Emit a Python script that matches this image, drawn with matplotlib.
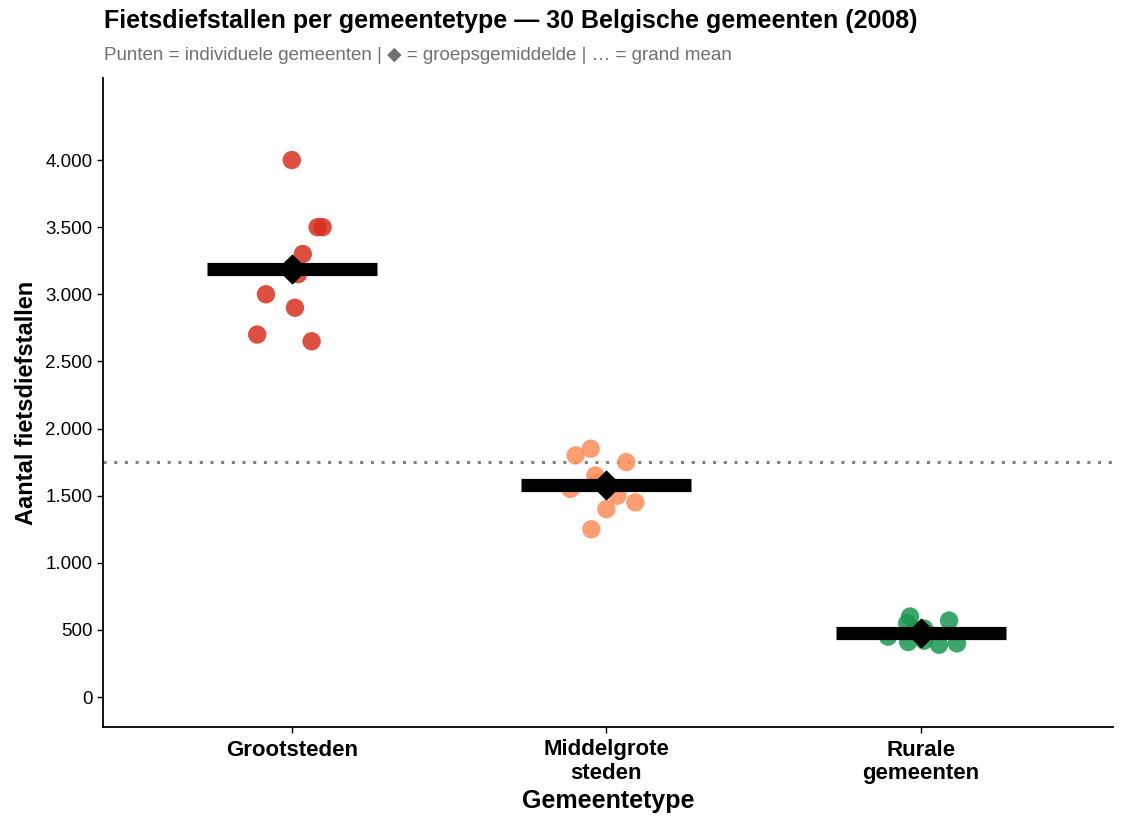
import numpy as np
import matplotlib.pyplot as plt

plt.rcParams['font.family'] = ['Liberation Sans', 'DejaVu Sans']

# Data
categories = ['Grootsteden', 'Middelgrote\nsteden', 'Rurale\ngemeenten']
groot = [4000, 3500, 3500, 3300, 3150, 3000, 2900, 2700, 2650, 3200]
middel = [1800, 1850, 1750, 1650, 1550, 1500, 1450, 1400, 1250, 1600]
ruraal = [600, 550, 570, 450, 410, 420, 390, 400, 500, 510]
values = [groot, middel, ruraal]

# horizontal jitter as seen in the picture (category units)
jitter = [
    [0.0, 0.082, 0.098, 0.035, 0.02, -0.082, 0.01, -0.11, 0.063, 0.0],
    [-0.098, -0.05, 0.063, -0.035, -0.114, 0.035, 0.092, 0.0, -0.048, -0.03],
    [-0.035, -0.044, 0.089, -0.105, -0.041, 0.01, 0.057, 0.114, -0.02, 0.01],
]
colors = ['#D7301F', '#FC8D59', '#1A9850']

fig = plt.figure(figsize=(11.25, 8.25), dpi=100)
ax = fig.add_axes([103 / 1125, 1 - 727 / 825, (1113 - 103) / 1125, (727 - 78) / 825])

grand_mean = np.mean(np.concatenate(values))
ax.axhline(grand_mean, color='#808080', linestyle=(0, (1, 2.5)), linewidth=2.2, zorder=1)

for i, (vals, jit, col) in enumerate(zip(values, jitter, colors)):
    xs = i + np.array(jit)
    ax.scatter(xs, vals, s=175, color=col, alpha=0.85, edgecolors='none', zorder=2)
    m = np.mean(vals)
    ax.plot([i - 0.27, i + 0.27], [m, m], color='black', linewidth=9.5, solid_capstyle='butt', zorder=3)
    ax.scatter([i], [m], marker='D', s=210, color='black', zorder=4)

ax.set_xlim(-0.6, 2.61)
ax.set_ylim(-223, 4611)
ax.set_xticks(range(3))
ax.set_xticklabels(categories, fontsize=16, fontweight='bold', linespacing=1.15)
yt = np.arange(0, 4001, 500)
ax.set_yticks(yt)
ax.set_yticklabels([f'{v:,}'.replace(',', '.') for v in yt], fontsize=13.5)
ax.tick_params(axis='both', length=4, width=1, colors='black')
ax.tick_params(axis='x', pad=5)
for s in ['top', 'right']:
    ax.spines[s].set_visible(False)
for s in ['left', 'bottom']:
    ax.spines[s].set_linewidth(1.3)

ax.set_xlabel('Gemeentetype', fontsize=18, fontweight='bold', labelpad=4)
ax.set_ylabel('Aantal fietsdiefstallen', fontsize=17, fontweight='bold', labelpad=5)

fig.text(104 / 1125, 1 - 21 / 825, 'Fietsdiefstallen per gemeentetype — 30 Belgische gemeenten (2008)',
         fontsize=18, fontweight='bold', va='center', ha='left')
fig.text(104 / 1125, 1 - 55 / 825, 'Punten = individuele gemeenten | ◆ = groepsgemiddelde | … = grand mean',
         fontsize=13.5, color='#707070', va='center', ha='left')

fig.savefig('out.png', dpi=100)
